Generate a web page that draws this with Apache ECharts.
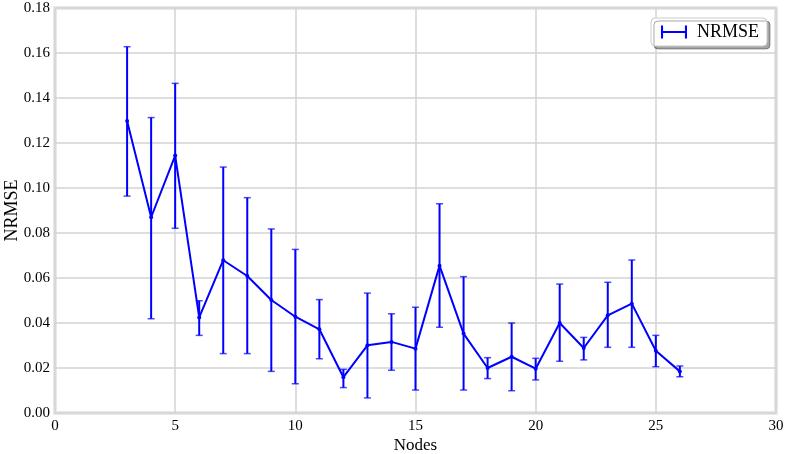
<!DOCTYPE html>
<html>
<head>
<meta charset="utf-8">
<script src="https://cdn.jsdelivr.net/npm/echarts@6/dist/echarts.min.js"></script>
<style>html,body{margin:0;padding:0;background:#fff;}#c{width:785px;height:454px;}</style>
</head>
<body>
<div id="c"></div>
<script>
var nodes = [3,4,5,6,7,8,9,10,11,12,13,14,15,16,17,18,19,20,21,22,23,24,25,26];
var nrmse = [0.1298,0.0870,0.1144,0.0425,0.0679,0.0609,0.0502,0.0428,0.0372,0.0159,0.0301,0.0316,0.0286,0.0655,0.0353,0.0200,0.0250,0.0197,0.0400,0.0289,0.0434,0.0486,0.0277,0.0185];
var upper = [0.1628,0.1313,0.1465,0.0499,0.1093,0.0957,0.0818,0.0727,0.0504,0.0194,0.0533,0.0441,0.0470,0.0930,0.0606,0.0246,0.0400,0.0243,0.0573,0.0336,0.0581,0.0680,0.0345,0.0209];
var lower = [0.0964,0.0419,0.0821,0.0345,0.0264,0.0264,0.0185,0.0130,0.0241,0.0113,0.0067,0.0190,0.0102,0.0381,0.0102,0.0153,0.0099,0.0147,0.0230,0.0236,0.0292,0.0292,0.0206,0.0161];
var yTicks = ['0.00','0.02','0.04','0.06','0.08','0.10','0.12','0.14','0.16','0.18'];

var lineData = nodes.map(function(n,i){return [n, nrmse[i]];});
var errData = nodes.map(function(n,i){return [n, lower[i], upper[i]];});
var font = 'Liberation Serif';
var chart = echarts.init(document.getElementById('c'), null, {renderer:'canvas'});
chart.setOption({
  animation:false,
  backgroundColor:'#ffffff',
  grid:{left:55,right:9,top:8,bottom:41,show:true,borderColor:'#e8e8e8',borderWidth:4,backgroundColor:'transparent',containLabel:false,outerBoundsMode:'none'},
  legend:{
    data:['NRMSE'],
    right:18, top:18,
    icon:'path://M0,4.2H20V5.8H0Z M0,0H1.6V10H0Z M18.4,0H20V10H18.4Z',
    itemWidth:27, itemHeight:13, itemGap:10,
    padding:[5,8,5,10],
    formatter:' {name}',
    textStyle:{fontFamily:font,fontSize:18,color:'#000'},
    backgroundColor:'#fff', borderColor:'#cccccc', borderWidth:1, borderRadius:4,
    shadowColor:'rgba(0,0,0,0.35)', shadowBlur:0, shadowOffsetX:3, shadowOffsetY:3
  },
  xAxis:{
    type:'value', min:0, max:30, interval:5,
    name:'Nodes', nameLocation:'middle', nameGap:24, nameMoveOverlap:false,
    nameTextStyle:{fontFamily:font,fontSize:17,color:'#000'},
    axisLine:{show:false}, axisTick:{show:false},
    axisLabel:{fontFamily:font,fontSize:15,color:'#000',margin:6},
    splitLine:{show:true,lineStyle:{color:'#d3d3d3',width:1.5}}
  },
  yAxis:{
    type:'value', min:0, max:0.18, interval:0.02,
    name:'NRMSE', nameLocation:'middle', nameGap:34, nameRotate:90, nameMoveOverlap:false,
    nameTextStyle:{fontFamily:font,fontSize:18,color:'#000'},
    axisLine:{show:false}, axisTick:{show:false},
    axisLabel:{fontFamily:font,fontSize:15,color:'#000',margin:5,
      formatter:function(v){var i=Math.round(v/0.02);return yTicks[i]!==undefined?yTicks[i]:'';}},
    splitLine:{show:true,lineStyle:{color:'#d3d3d3',width:1.5}}
  },
  series:[
    {
      name:'NRMSE', type:'custom', z:3,
      data:errData,
      encode:{x:0,y:[1,2]},
      renderItem:function(params,api){
        var x=api.value(0);
        var lo=api.coord([x,api.value(1)]);
        var hi=api.coord([x,api.value(2)]);
        var hw=3.5;
        var st={stroke:'#0000ff',lineWidth:2};
        return {type:'group',children:[
          {type:'line',shape:{x1:lo[0],y1:lo[1],x2:hi[0],y2:hi[1]},style:st},
          {type:'line',shape:{x1:lo[0]-hw,y1:lo[1],x2:lo[0]+hw,y2:lo[1]},style:{stroke:'rgba(0,0,255,0.7)',lineWidth:1.5}},
          {type:'line',shape:{x1:hi[0]-hw,y1:hi[1],x2:hi[0]+hw,y2:hi[1]},style:{stroke:'rgba(0,0,255,0.7)',lineWidth:1.5}}
        ]};
      },
      itemStyle:{color:'#0000ff'}
    },
    {
      name:'NRMSE', type:'line', z:4,
      data:lineData,
      symbol:'circle', symbolSize:4, showSymbol:true,
      lineStyle:{color:'#0000ff',width:2},
      itemStyle:{color:'#0000ff'}
    }
  ]
});
</script>
</body>
</html>
